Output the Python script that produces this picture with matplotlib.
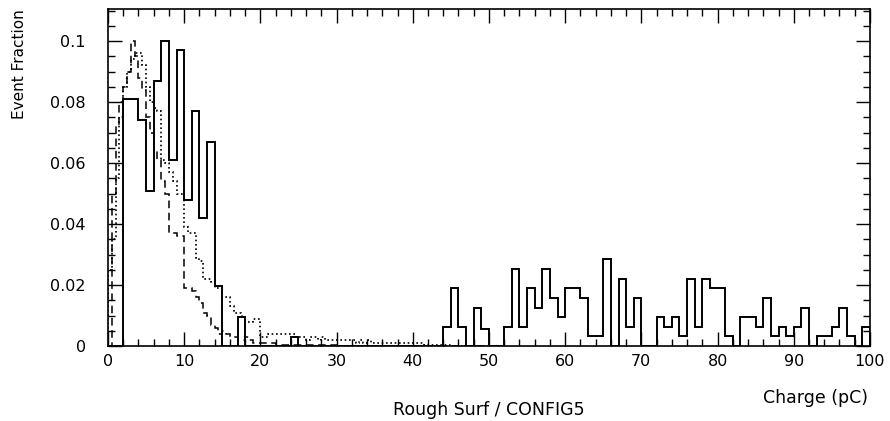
"""Rough Surf / CONFIG5 charge spectra, three overlaid histograms."""

import numpy as np
import matplotlib
matplotlib.use("Agg")
import matplotlib.pyplot as plt
from matplotlib.ticker import MultipleLocator

# solid histogram, 1 pC bins from 0 to 100
solid_edges = np.arange(0, 101, 1.0)
solid_vals = [
    0, 0, 0.081, 0.081, 0.074, 0.051, 0.087, 0.100, 0.061, 0.097,
    0.048, 0.077, 0.042, 0.067, 0.0196, 0, 0, 0.0096, 0, 0,
    0, 0, 0, 0, 0.003, 0, 0, 0, 0, 0,
    0, 0, 0, 0, 0, 0, 0, 0, 0, 0,
    0, 0, 0, 0, 0.0063, 0.019, 0.0063, 0, 0.0126, 0.0055,
    0, 0, 0.0063, 0.0252, 0.0063, 0.019, 0.0126, 0.0252, 0.0158, 0.0095,
    0.019, 0.019, 0.0158, 0.0032, 0.0032, 0.0284, 0, 0.0221, 0.0063, 0.0158,
    0, 0, 0.0095, 0.0063, 0.0095, 0.0032, 0.0221, 0.0063, 0.0221, 0.019,
    0.019, 0.0032, 0, 0.0095, 0.0095, 0.0063, 0.0158, 0.0032, 0.0063, 0.0032,
    0.0063, 0.0126, 0, 0.0032, 0.0032, 0.0063, 0.0126, 0.0032, 0, 0.0063,
]

# dashed and dotted histograms, 0.5 pC bins from 0 to 50
fine_edges = np.arange(0, 50.5, 0.5)
dashed_vals = [
    0, 0.050, 0.072, 0.080, 0.085, 0.090, 0.100, 0.095, 0.088, 0.084,
    0.075, 0.070, 0.064, 0.061, 0.054, 0.050, 0.037, 0.037, 0.036, 0.036,
    0.019, 0.019, 0.018, 0.016, 0.014, 0.011, 0.010, 0.007, 0.006, 0.004,
    0.005, 0.004, 0.003, 0.003, 0.002, 0.002, 0.003, 0.002, 0.001, 0.001,
    0.001, 0.001, 0.001, 0.001, 0.0005, 0.0005, 0.0005, 0.0005, 0.0005, 0.0005,
    0.0005, 0.0005, 0.0005, 0.0005, 0.0005, 0.0005, 0.0005, 0.0005, 0.0005, 0.0005,
    0, 0, 0, 0, 0, 0, 0, 0, 0, 0,
    0, 0, 0, 0, 0, 0, 0, 0, 0, 0,
    0, 0, 0, 0, 0, 0, 0, 0, 0, 0,
    0, 0, 0, 0, 0, 0, 0, 0, 0, 0,
]
dotted_vals = [
    0.025, 0.035, 0.055, 0.075, 0.085, 0.090, 0.094, 0.096, 0.096, 0.092,
    0.085, 0.080, 0.078, 0.077, 0.061, 0.060, 0.057, 0.054, 0.050, 0.050,
    0.039, 0.037, 0.037, 0.029, 0.028, 0.022, 0.022, 0.021, 0.019, 0.019,
    0.016, 0.016, 0.013, 0.011, 0.011, 0.010, 0.008, 0.008, 0.009, 0.009,
    0.003, 0.003, 0.004, 0.004, 0.004, 0.004, 0.004, 0.004, 0.004, 0.003,
    0.003, 0.003, 0.002, 0.003, 0.003, 0.002, 0.003, 0.002, 0.002, 0.002,
    0.002, 0.002, 0.002, 0.002, 0.002, 0.001, 0.002, 0.001, 0.002, 0.001,
    0.001, 0.001, 0.001, 0.001, 0.001, 0.001, 0.001, 0.001, 0.001, 0.001,
    0.001, 0.001, 0.001, 0.0005, 0.0005, 0.0005, 0.0005, 0.0005, 0.0005, 0.0005,
    0, 0, 0, 0, 0, 0, 0, 0, 0, 0,
]

fig = plt.figure(figsize=(8.9, 4.21), dpi=100)
ax = fig.add_axes([0.1213, 0.178, 0.8562, 0.8005])

ax.stairs(solid_vals, solid_edges, color="black", linewidth=1.4)
ax.stairs(dashed_vals, fine_edges, color="black", linewidth=1.1, linestyle=(0, (5, 3)))
ax.stairs(dotted_vals, fine_edges, color="black", linewidth=1.2, linestyle=(0, (1, 1.6)))

ax.set_xlim(0, 100)
ax.set_ylim(0, 0.1105)

ax.xaxis.set_major_locator(MultipleLocator(10))
ax.xaxis.set_minor_locator(MultipleLocator(2))
ax.yaxis.set_major_locator(MultipleLocator(0.02))
ax.yaxis.set_minor_locator(MultipleLocator(0.005))
ax.set_yticks([0, 0.02, 0.04, 0.06, 0.08, 0.1])
ax.set_yticklabels(["0", "0.02", "0.04", "0.06", "0.08", "0.1"])

ax.tick_params(which="both", direction="in", top=True, right=True, width=1.0,
               labelsize=11.5, colors="black")
ax.tick_params(which="major", length=10)
ax.tick_params(which="minor", length=5)
ax.tick_params(axis="x", pad=6)
ax.tick_params(axis="y", pad=16)
for spine in ax.spines.values():
    spine.set_linewidth(1.2)

fig.text(0.022, 0.978, "Event Fraction", rotation=90, ha="center", va="top", fontsize=11)
fig.text(0.975, 0.055, "Charge (pC)", ha="right", va="center", fontsize=12.5)
fig.text(0.549, 0.026, "Rough Surf / CONFIG5", ha="center", va="center", fontsize=12.5)

fig.savefig("out.png", dpi=100)
